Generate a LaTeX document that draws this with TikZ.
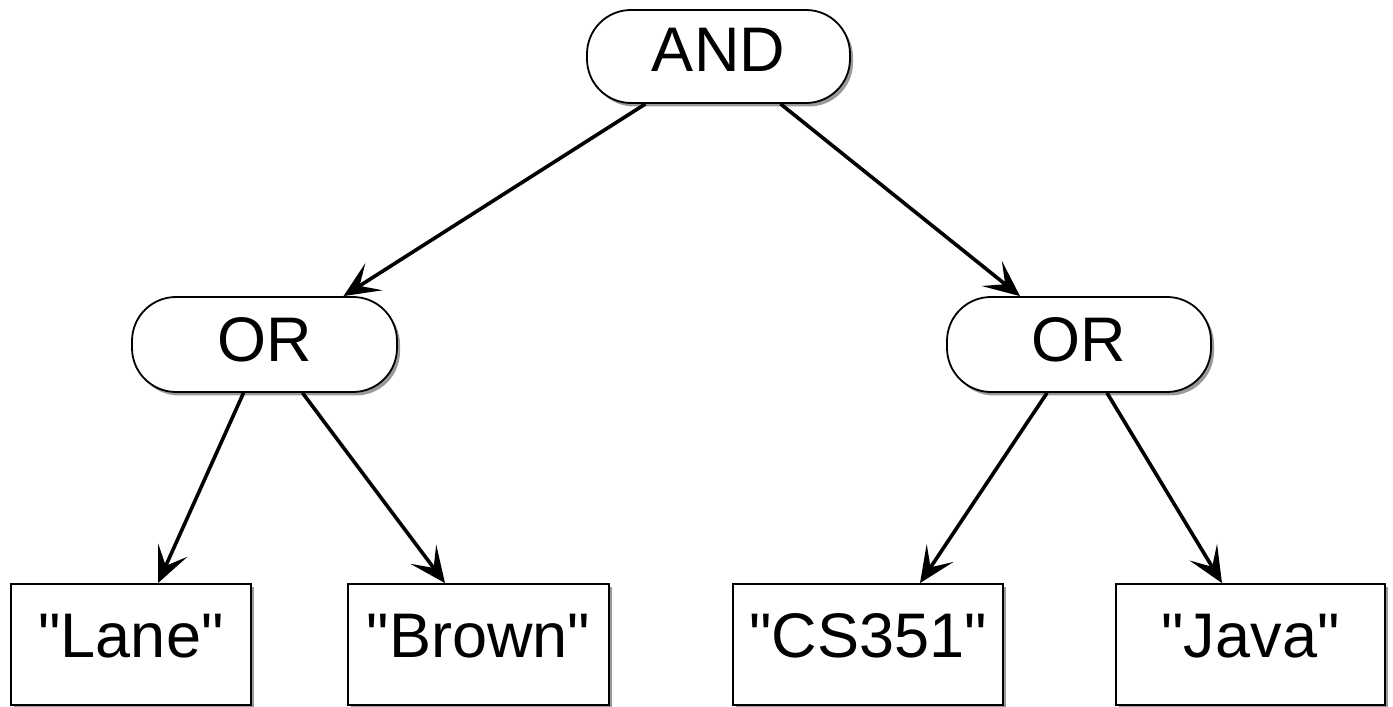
\documentclass[tikz,border=0pt]{standalone}
\usepackage{fontspec}
\setmainfont{Liberation Sans}[Ligatures=TeXOff]
\usetikzlibrary{arrows.meta,shadows}
\tikzset{
  x=1pt, y=1pt,
  shade/.style={drop shadow={shadow xshift=3pt, shadow yshift=-3.5pt, opacity=0.4, fill=black}},
  opnode/.style={draw, line width=1.8pt, fill=white, rounded corners=44pt, shade,
    inner xsep=0pt, inner ysep=0pt, font=\fontsize{63}{70}\selectfont},
  leaf/.style={draw, line width=1.8pt, fill=white, shade, inner xsep=0pt, inner ysep=0pt,
    minimum height=121pt, text height=74pt, text depth=47pt, font=\fontsize{63}{70}\selectfont},
  link/.style={line width=3.6pt, -{Stealth[length=36pt,width=32pt,inset=17pt]}}
}
\begin{document}
\begin{tikzpicture}
\useasboundingbox (0,0) rectangle (1393,707);
\node[opnode, minimum width=263pt, text height=62pt, text depth=31pt] (and) at (718.5,650.5) {AND};
\node[opnode, minimum width=265pt, text height=65pt, text depth=30pt] (orl) at (264.5,362.5) {OR};
\node[opnode, minimum width=264pt, text height=65pt, text depth=30pt] (orr) at (1079,362.5) {OR};
\node[leaf, minimum width=240pt] (lane) at (131,62.5) {"Lane"};
\node[leaf, minimum width=261pt] (brown) at (478.5,62.5) {"Brown"};
\node[leaf, minimum width=270pt] (cs) at (868,62.5) {"CS351"};
\node[leaf, minimum width=269pt] (java) at (1250.5,62.5) {"Java"};
\draw[link] ([xshift=-73pt]and.south) -- ([xshift=79pt]orl.north);
\draw[link] ([xshift=62pt]and.south) -- ([xshift=-59pt]orr.north);
\draw[link] ([xshift=-21pt]orl.south) -- ([xshift=27pt]lane.north);
\draw[link] ([xshift=38pt]orl.south) -- ([xshift=-33.5pt]brown.north);
\draw[link] ([xshift=-32pt]orr.south) -- ([xshift=52pt]cs.north);
\draw[link] ([xshift=28pt]orr.south) -- ([xshift=-28.5pt]java.north);
\end{tikzpicture}
\end{document}
